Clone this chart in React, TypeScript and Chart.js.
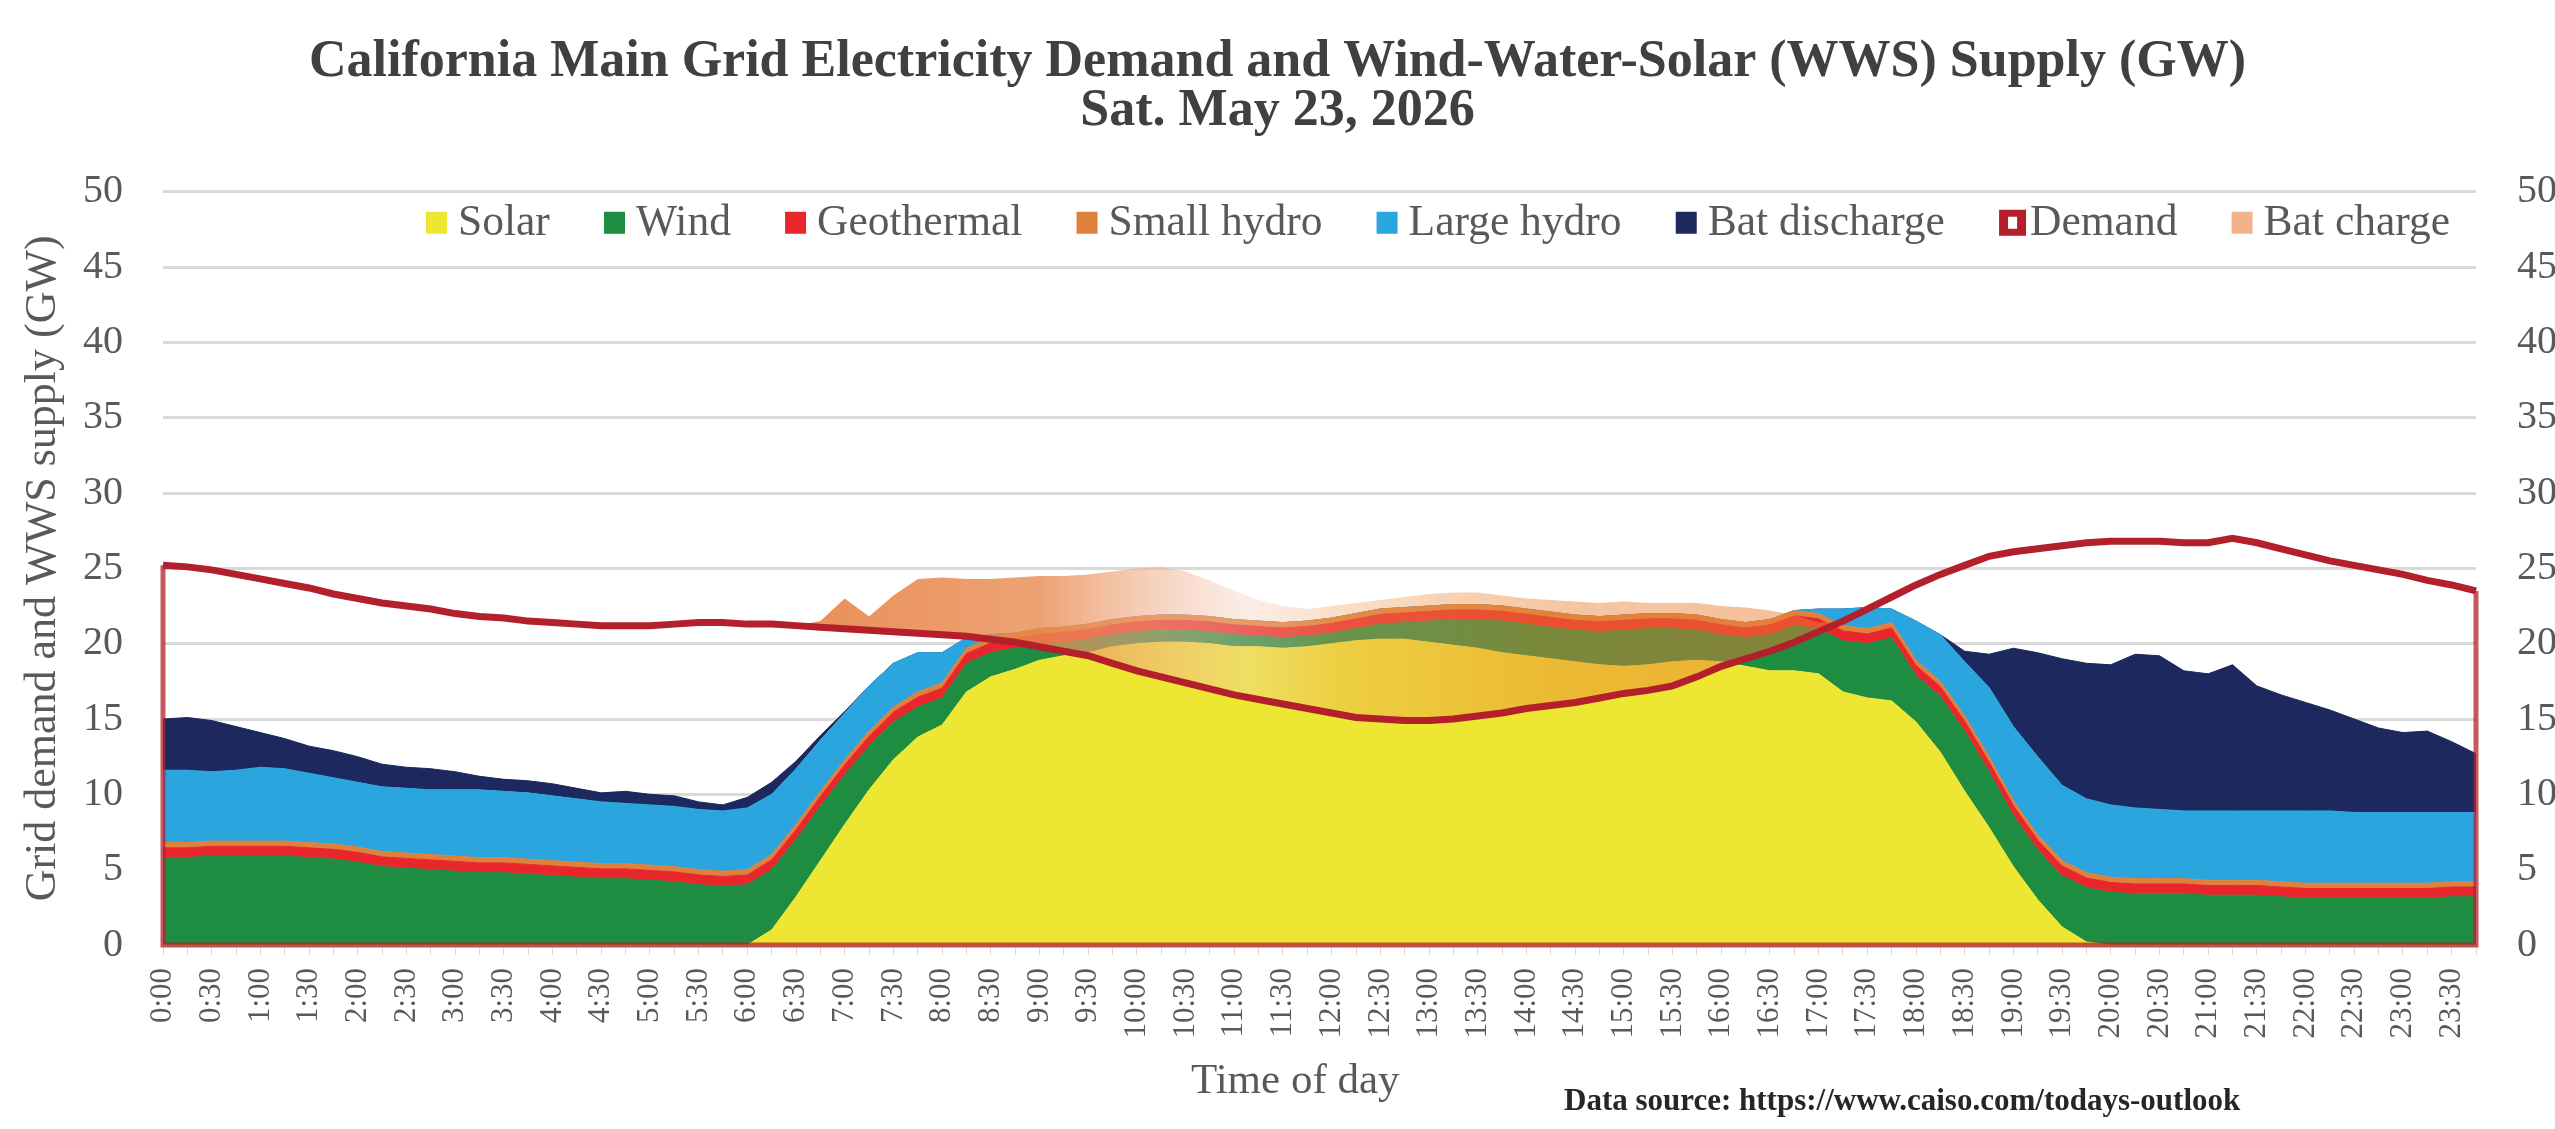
import React, { useEffect, useRef } from 'react';
import { Chart, registerables } from 'chart.js';

Chart.register(...registerables);

// ---------- categories (15-minute steps) ----------
const HOURS = ['0','1','2','3','4','5','6','7','8','9','10','11','12','13','14','15','16','17','18','19','20','21','22','23'];
const MINUTES = ['00', '15', '30', '45'];
const TIMES: string[] = HOURS.flatMap((h) => MINUTES.map((m) => `${h}:${m}`));

// ---------- series values (GW) ----------
const SOLAR = [
  0, 0, 0, 0, 0, 0, 0, 0, 0, 0, 0, 0, 0, 0, 0, 0, 0, 0, 0, 0, 0, 0, 0, 0,
  0, 1.0, 3.2, 5.6, 8.0, 10.3, 12.3, 13.8, 14.6, 16.8, 17.8, 18.3, 18.9, 19.2, 19.4, 19.8, 20.0, 20.1, 20.1, 20.0, 19.8, 19.8, 19.7, 19.8,
  20.0, 20.2, 20.3, 20.3, 20.1, 19.9, 19.7, 19.4, 19.2, 19.0, 18.8, 18.6, 18.5, 18.6, 18.8, 18.9, 18.8, 18.5, 18.2, 18.2, 18.0, 16.8, 16.4, 16.2,
  14.8, 12.8, 10.2, 7.8, 5.2, 3.0, 1.2, 0.2, 0, 0, 0, 0, 0, 0, 0, 0, 0, 0, 0, 0, 0, 0, 0, 0,
];
const WIND = [
  5.8, 5.8, 5.9, 5.9, 5.9, 5.9, 5.8, 5.7, 5.5, 5.2, 5.1, 5.0, 4.9, 4.8, 4.8, 4.7, 4.6, 4.5, 4.4, 4.4, 4.3, 4.2, 4.0, 3.9,
  4.0, 4.0, 3.8, 3.6, 3.3, 2.9, 2.5, 2.0, 1.8, 1.9, 1.6, 1.4, 1.1, 0.9, 0.9, 0.8, 0.8, 0.8, 0.8, 0.8, 0.8, 0.7, 0.7, 0.7,
  0.7, 0.8, 1.0, 1.1, 1.4, 1.7, 1.9, 2.1, 2.1, 2.1, 2.1, 2.2, 2.4, 2.4, 2.2, 2.0, 1.8, 1.9, 2.4, 3.0, 3.0, 3.4, 3.6, 4.2,
  3.1, 3.7, 4.0, 3.7, 3.4, 3.3, 3.4, 3.6, 3.5, 3.4, 3.4, 3.4, 3.3, 3.3, 3.3, 3.2, 3.1, 3.1, 3.1, 3.1, 3.1, 3.1, 3.2, 3.2,
];
const GEOTHERMAL = [
  0.65, 0.65, 0.65, 0.65, 0.65, 0.65, 0.65, 0.65, 0.65, 0.65, 0.65, 0.65, 0.65, 0.65, 0.65, 0.65, 0.65, 0.65, 0.65, 0.65, 0.65, 0.65, 0.65, 0.65,
  0.65, 0.65, 0.65, 0.65, 0.65, 0.65, 0.65, 0.65, 0.65, 0.65, 0.65, 0.65, 0.65, 0.65, 0.65, 0.65, 0.65, 0.65, 0.65, 0.65, 0.65, 0.65, 0.65, 0.65,
  0.65, 0.65, 0.65, 0.65, 0.65, 0.65, 0.65, 0.65, 0.65, 0.65, 0.65, 0.65, 0.65, 0.65, 0.65, 0.65, 0.65, 0.65, 0.65, 0.65, 0.65, 0.65, 0.65, 0.65,
  0.65, 0.65, 0.65, 0.65, 0.65, 0.65, 0.65, 0.65, 0.65, 0.65, 0.65, 0.65, 0.65, 0.65, 0.65, 0.65, 0.65, 0.65, 0.65, 0.65, 0.65, 0.65, 0.65, 0.65,
];
const SMALL_HYDRO = [
  0.35, 0.35, 0.35, 0.35, 0.35, 0.35, 0.35, 0.35, 0.35, 0.35, 0.35, 0.35, 0.35, 0.35, 0.35, 0.35, 0.35, 0.35, 0.35, 0.35, 0.35, 0.35, 0.35, 0.35,
  0.35, 0.35, 0.35, 0.35, 0.35, 0.35, 0.35, 0.35, 0.35, 0.35, 0.35, 0.35, 0.35, 0.35, 0.35, 0.35, 0.35, 0.35, 0.35, 0.35, 0.35, 0.35, 0.35, 0.35,
  0.35, 0.35, 0.35, 0.35, 0.35, 0.35, 0.35, 0.35, 0.35, 0.35, 0.35, 0.35, 0.35, 0.35, 0.35, 0.35, 0.35, 0.35, 0.35, 0.35, 0.35, 0.35, 0.35, 0.35,
  0.35, 0.35, 0.35, 0.35, 0.35, 0.35, 0.35, 0.35, 0.35, 0.35, 0.35, 0.35, 0.35, 0.35, 0.35, 0.35, 0.35, 0.35, 0.35, 0.35, 0.35, 0.35, 0.35, 0.35,
];
const LARGE_HYDRO = [
  4.8, 4.8, 4.6, 4.7, 4.9, 4.8, 4.6, 4.4, 4.3, 4.3, 4.3, 4.3, 4.4, 4.5, 4.4, 4.4, 4.3, 4.2, 4.1, 4.0, 4.0, 4.0, 4.0, 4.0,
  4.1, 4.0, 3.7, 3.4, 3.1, 3.0, 2.9, 2.6, 2.0, 0.7, 0.2, 0, 0, 0, 0, 0, 0, 0, 0, 0, 0, 0, 0, 0,
  0, 0, 0, 0, 0, 0, 0, 0, 0, 0, 0, 0, 0, 0, 0, 0, 0, 0, 0, 0, 0.3, 1.1, 1.4, 0.9,
  2.6, 3.1, 3.6, 4.6, 4.9, 5.2, 5.0, 4.9, 4.8, 4.7, 4.6, 4.5, 4.6, 4.6, 4.6, 4.7, 4.8, 4.8, 4.7, 4.7, 4.7, 4.7, 4.6, 4.6,
];
const BAT_DISCHARGE = [
  3.4, 3.5, 3.4, 2.9, 2.3, 2.0, 1.8, 1.8, 1.7, 1.5, 1.4, 1.4, 1.2, 0.9, 0.8, 0.8, 0.8, 0.7, 0.6, 0.8, 0.7, 0.7, 0.5, 0.4,
  0.7, 0.8, 0.5, 0.3, 0.1, 0, 0, 0, 0, 0, 0, 0, 0, 0, 0, 0, 0, 0, 0, 0, 0, 0, 0, 0,
  0, 0, 0, 0, 0, 0, 0, 0, 0, 0, 0, 0, 0, 0, 0, 0, 0, 0, 0, 0, 0, 0, 0, 0,
  0, 0, 0.7, 2.2, 5.2, 6.9, 8.4, 9.0, 9.3, 10.2, 10.2, 9.3, 9.1, 9.7, 8.3, 7.7, 7.2, 6.7, 6.2, 5.6, 5.3, 5.4, 4.7, 3.9,
];
const DEMAND = [
  25.2, 25.1, 24.9, 24.6, 24.3, 24.0, 23.7, 23.3, 23.0, 22.7, 22.5, 22.3, 22.0, 21.8, 21.7, 21.5, 21.4, 21.3, 21.2, 21.2, 21.2, 21.3, 21.4, 21.4,
  21.3, 21.3, 21.2, 21.1, 21.0, 20.9, 20.8, 20.7, 20.6, 20.5, 20.3, 20.1, 19.8, 19.5, 19.2, 18.7, 18.2, 17.8, 17.4, 17.0, 16.6, 16.3, 16.0, 15.7,
  15.4, 15.1, 15.0, 14.9, 14.9, 15.0, 15.2, 15.4, 15.7, 15.9, 16.1, 16.4, 16.7, 16.9, 17.2, 17.8, 18.5, 19.0, 19.5, 20.1, 20.8, 21.5, 22.3, 23.1,
  23.9, 24.6, 25.2, 25.8, 26.1, 26.3, 26.5, 26.7, 26.8, 26.8, 26.8, 26.7, 26.7, 27.0, 26.7, 26.3, 25.9, 25.5, 25.2, 24.9, 24.6, 24.2, 23.9, 23.5,
];
const BAT_CHARGE = [
  0, 0, 0, 0, 0, 0, 0, 0, 0, 0, 0, 0, 0, 0, 0, 0, 0, 0, 0, 0, 0, 0, 0, 0,
  0, 0, 0, 0.4, 2.0, 0.9, 2.4, 3.6, 3.8, 3.8, 4.0, 4.3, 4.7, 5.0, 5.4, 6.1, 6.8, 7.3, 7.4, 7.2, 6.9, 6.6, 6.5, 6.6,
  7.1, 7.6, 7.9, 8.2, 8.4, 8.4, 8.2, 7.8, 7.3, 7.0, 6.7, 6.3, 6.1, 5.8, 5.5, 4.9, 4.0, 3.4, 2.7, 1.8, 0.6, 0, 0, 0,
  0, 0, 0, 0, 0, 0, 0, 0, 0, 0, 0, 0, 0, 0, 0, 0, 0, 0, 0, 0, 0, 0, 0, 0,
];

const Y_TICKS = [0, 5, 10, 15, 20, 25, 30, 35, 40, 45, 50];

const TITLE_LINES = [
  'California Main Grid Electricity Demand and Wind-Water-Solar (WWS) Supply (GW)',
  'Sat. May 23, 2026',
];
const Y_TITLE = 'Grid demand and WWS supply (GW)';
const X_TITLE = 'Time of day';
const SOURCE_TEXT = 'Data source: https://www.caiso.com/todays-outlook';

// ---------- styles ----------
const SERIF = "'Liberation Serif', 'Times New Roman', serif";
const C_SOLAR = '#EDE734';
const C_WIND = '#1E8C41';
const C_GEO = '#E8262B';
const C_SMALL = '#E0803D';
const C_LARGE = '#2AA5DD';
const C_BATDIS = '#1C285E';
const C_DEMAND = '#B3202B';
const C_BATCHG = '#F3B28C';
const TEXT = '#595959';

const LEGEND_ITEMS = [
  { label: 'Solar', color: C_SOLAR, hollow: false },
  { label: 'Wind', color: C_WIND, hollow: false },
  { label: 'Geothermal', color: C_GEO, hollow: false },
  { label: 'Small hydro', color: C_SMALL, hollow: false },
  { label: 'Large hydro', color: C_LARGE, hollow: false },
  { label: 'Bat discharge', color: C_BATDIS, hollow: false },
  { label: 'Demand', color: C_DEMAND, hollow: true },
  { label: 'Bat charge', color: C_BATCHG, hollow: false },
];

const customPlugin = {
  id: 'customDecor',
  afterDatasetsDraw(chart: any) {
    const ctx = chart.ctx;
    const meta = chart.getDatasetMeta(6);
    const pts = meta.data;
    if (!pts || !pts.length) return;
    const base = chart.scales.y2.getPixelForValue(0);
    const first = pts[0];
    const last = pts[pts.length - 1];
    ctx.save();
    ctx.strokeStyle = 'rgba(179,32,43,0.75)';
    ctx.lineWidth = 5;
    ctx.lineJoin = 'miter';
    ctx.beginPath();
    ctx.moveTo(first.x, first.y);
    ctx.lineTo(first.x, base);
    ctx.lineTo(last.x, base);
    ctx.lineTo(last.x, last.y);
    ctx.stroke();
    ctx.restore();
  },
  afterDraw(chart: any) {
    const ctx = chart.ctx;
    const area = chart.chartArea;
    ctx.save();
    // legend (inside plot area, right aligned)
    ctx.font = `43.5px ${SERIF}`;
    ctx.textBaseline = 'middle';
    const boxW = (it: any) => (it.hollow ? 27 : 21);
    const boxGap = (it: any) => (it.hollow ? 4 : 11);
    const widths = LEGEND_ITEMS.map((it) => boxW(it) + boxGap(it) + ctx.measureText(it.label).width);
    const total = widths.reduce((a, b) => a + b, 0);
    const startX = area.left + 263;
    const endX = area.right - 26;
    const gap = (endX - startX - total) / (LEGEND_ITEMS.length - 1);
    const cy = area.top + 31;
    let x = startX;
    LEGEND_ITEMS.forEach((it, i) => {
      const bw = boxW(it);
      ctx.fillStyle = it.color;
      if (it.hollow) {
        ctx.fillRect(x, cy - 13, bw, 26);
        ctx.fillStyle = '#ffffff';
        ctx.fillRect(x + 9, cy - 6, bw - 18, 12);
      } else {
        ctx.fillRect(x, cy - 11, bw, 22);
      }
      ctx.fillStyle = TEXT;
      ctx.textAlign = 'left';
      ctx.fillText(it.label, x + bw + boxGap(it), cy + 1);
      x += widths[i] + gap;
    });
    // x-axis title
    ctx.font = `43px ${SERIF}`;
    ctx.fillStyle = TEXT;
    ctx.textAlign = 'center';
    ctx.fillText(X_TITLE, area.left + area.width * 0.4895, 1082);
    // data source note
    ctx.font = `bold 31px ${SERIF}`;
    ctx.fillStyle = '#262626';
    ctx.textAlign = 'left';
    ctx.fillText(SOURCE_TEXT, 1564, 1102);
    ctx.restore();
  },
};

function batChargeFill(context: any) {
  const chart = context.chart;
  const area = chart.chartArea;
  if (!area) return 'rgba(240,150,90,0.5)';
  const g = chart.ctx.createLinearGradient(area.left, 0, area.right, 0);
  g.addColorStop(0.0, 'rgba(230,125,60,0.85)');
  g.addColorStop(0.28, 'rgba(230,125,60,0.85)');
  g.addColorStop(0.38, 'rgba(233,138,80,0.8)');
  g.addColorStop(0.43, 'rgba(240,175,140,0.55)');
  g.addColorStop(0.47, 'rgba(245,205,185,0.35)');
  g.addColorStop(0.51, 'rgba(238,160,90,0.35)');
  g.addColorStop(0.60, 'rgba(235,130,50,0.45)');
  g.addColorStop(0.72, 'rgba(235,125,55,0.5)');
  g.addColorStop(1.0, 'rgba(235,125,55,0.5)');
  return g;
}

export default function App() {
  const canvasRef = useRef<HTMLCanvasElement | null>(null);

  useEffect(() => {
    const canvas = canvasRef.current;
    if (!canvas) return;

    const area = (label: string, data: number[], color: string, fill: any) => ({
      label,
      data,
      backgroundColor: color,
      borderColor: color,
      borderWidth: 1,
      pointRadius: 0,
      fill,
      yAxisID: 'y',
      order: 0,
      tension: 0,
    });

    const tickFont = { family: SERIF, size: 40 };

    const chart = new Chart(canvas, {
      type: 'line',
      data: {
        labels: TIMES,
        datasets: [
          area('Solar', SOLAR, C_SOLAR, 'origin'),
          area('Wind', WIND, C_WIND, '-1'),
          area('Geothermal', GEOTHERMAL, C_GEO, '-1'),
          area('Small hydro', SMALL_HYDRO, C_SMALL, '-1'),
          area('Large hydro', LARGE_HYDRO, C_LARGE, '-1'),
          area('Bat discharge', BAT_DISCHARGE, C_BATDIS, '-1'),
          {
            label: 'Demand',
            data: DEMAND,
            borderColor: C_DEMAND,
            backgroundColor: '#ffffff',
            borderWidth: 7,
            pointRadius: 0,
            fill: false,
            yAxisID: 'y2',
            order: -2,
            tension: 0,
          },
          {
            label: 'Bat charge',
            data: BAT_CHARGE,
            borderColor: 'rgba(0,0,0,0)',
            borderWidth: 0,
            backgroundColor: batChargeFill,
            pointRadius: 0,
            fill: '-1',
            yAxisID: 'y2',
            order: -1,
            tension: 0,
          },
        ],
      },
      options: {
        responsive: false,
        maintainAspectRatio: false,
        devicePixelRatio: 1,
        animation: false,
        layout: { padding: 0 },
        plugins: {
          legend: { display: false },
          tooltip: { enabled: false },
          title: {
            display: true,
            text: TITLE_LINES,
            color: '#404040',
            font: { family: SERIF, size: 52, weight: 'bold', lineHeight: 0.94 },
            padding: { top: 38, bottom: 56 },
          },
        },
        scales: {
          x: {
            type: 'category',
            offset: false,
            ticks: {
              autoSkip: false,
              maxRotation: 90,
              minRotation: 90,
              padding: 13,
              color: TEXT,
              font: { family: SERIF, size: 31 },
              callback: (_v: any, i: number) => (i % 2 === 0 ? TIMES[i] : ''),
            },
            grid: {
              drawOnChartArea: false,
              drawTicks: true,
              tickLength: 10,
              color: '#e8d2d2',
              lineWidth: 1,
            },
            border: { display: false },
            title: { display: false },
            afterFit: (s: any) => {
              s.height = 184;
            },
          },
          y: {
            type: 'linear',
            position: 'left',
            stacked: true,
            min: 0,
            max: 50,
            afterBuildTicks: (s: any) => {
              s.ticks = Y_TICKS.map((v) => ({ value: v }));
            },
            ticks: { padding: 40, color: TEXT, font: tickFont },
            grid: { color: '#d9d9d9', lineWidth: 3, drawTicks: false },
            border: { display: false },
            title: {
              display: true,
              text: Y_TITLE,
              color: TEXT,
              font: { family: SERIF, size: 44 },
              padding: { top: 17, bottom: 0 },
            },
            afterFit: (s: any) => {
              s.width = 163;
            },
          },
          y2: {
            type: 'linear',
            position: 'right',
            stacked: true,
            min: 0,
            max: 50,
            afterBuildTicks: (s: any) => {
              s.ticks = Y_TICKS.map((v) => ({ value: v }));
            },
            ticks: { padding: 41, color: TEXT, font: tickFont },
            grid: { drawOnChartArea: false, drawTicks: false },
            border: { display: false },
            afterFit: (s: any) => {
              s.width = 79;
            },
          },
        },
      },
      plugins: [customPlugin],
    } as any);

    return () => chart.destroy();
  }, []);

  return (
    <div style={{ position: 'absolute', left: 0, top: 0, width: 2555, height: 1129, background: '#ffffff' }}>
      <canvas ref={canvasRef} width={2555} height={1129} />
    </div>
  );
}
